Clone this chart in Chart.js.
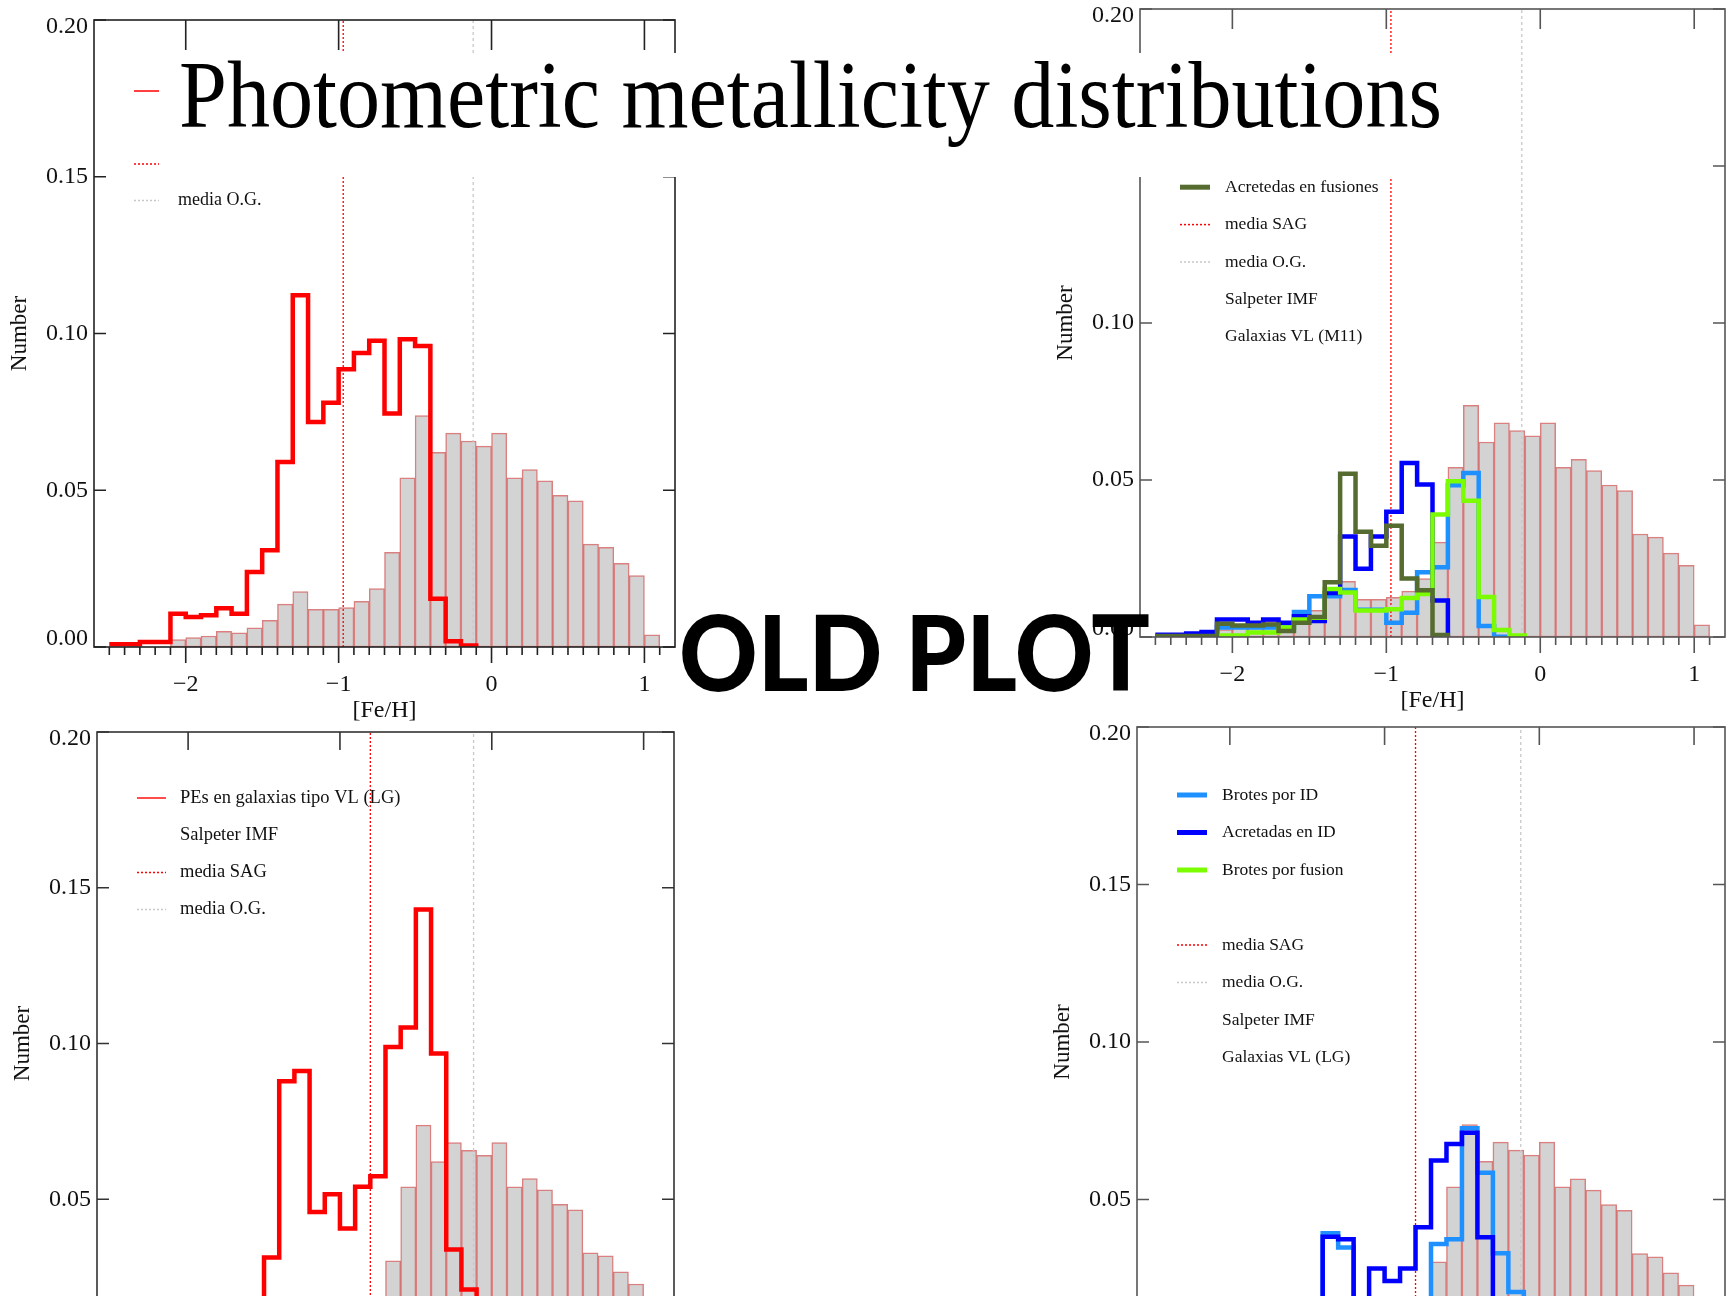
<!DOCTYPE html>
<html>
<head>
<meta charset="utf-8">
<script src="https://cdn.jsdelivr.net/npm/chart.js@4.4.1/dist/chart.umd.min.js"></script>
<style>
  html, body { margin: 0; padding: 0; background: #fff; }
  body { width: 1733px; height: 1296px; overflow: hidden; position: relative; }
  .panel { position: absolute; }
  #title-box { position: absolute; left: 165px; top: 53px; width: 1305px; height: 124px; background: #fff; z-index: 5; }
  #title { position: absolute; left: 179px; top: 47px; font-family: "Liberation Serif", serif; font-size: 96px;
           line-height: 96px; white-space: nowrap; transform-origin: 0 0; z-index: 6; color: #000; }
  #stamp { position: absolute; left: 679px; top: 598px; font-family: Lato, "Open Sans", sans-serif; font-weight: 900;
           font-size: 105px; line-height: 105px; white-space: nowrap; transform-origin: 0 0; z-index: 7; color: #000; }
</style>
</head>
<body>
<div id="title-box"></div>
<div id="title">Photometric metallicity distributions</div>
<div id="stamp">OLD PLOT</div>

<script>
// ========================================
// DATA
// ========================================

// left edges of the [Fe/H] bins (width 0.1)
const feBins = [-2.5, -2.4, -2.3, -2.2, -2.1, -2.0, -1.9, -1.8, -1.7, -1.6, -1.5, -1.4,
                -1.3, -1.2, -1.1, -1.0, -0.9, -0.8, -0.7, -0.6, -0.5, -0.4, -0.3, -0.2,
                -0.1, 0.0, 0.1, 0.2, 0.3, 0.4, 0.5, 0.6, 0.7, 0.8, 0.9, 1.0];
const binWidth = 0.1;

const xTicks = [-2, -1, 0, 1];
const xTickLabels = ['\u22122', '\u22121', '0', '1'];
const yTicks = [0, 0.05, 0.10, 0.15, 0.20];
const yTickLabels = ['0.00', '0.05', '0.10', '0.15', '0.20'];

// observed (O.G.) distribution, grey bars in every panel
const ogHist = [null, null, null, null, 0.0024, 0.0030, 0.0035, 0.0050, 0.0045, 0.0061, 0.0085, 0.0137,
                0.0177, 0.0120, 0.0120, 0.0126, 0.0146, 0.0186, 0.0302, 0.0540, 0.0738, 0.0621, 0.0682, 0.0657,
                0.0641, 0.0682, 0.0540, 0.0566, 0.0530, 0.0484, 0.0466, 0.0328, 0.0318, 0.0267, 0.0228, 0.0039];

// SAG PEs, M11 volume (top left)
const pesM11 = [0.0009, 0.0009, 0.0016, 0.0016, 0.0106, 0.0096, 0.0101, 0.0124, 0.0106, 0.0239, 0.0309, 0.0590,
                0.1122, 0.0718, 0.0779, 0.0886, 0.0938, 0.0977, 0.0745, 0.0982, 0.0960, 0.0154, 0.0018, 0.0005];

// SAG PEs, LG volume (bottom left)
const pesLG = [0.001, 0.001, 0.002, 0.002, 0.006, 0.006, 0.008, 0.010, 0.008, 0.012, 0.0313, 0.0879,
               0.0912, 0.0459, 0.0516, 0.0406, 0.0540, 0.0574, 0.0989, 0.1051, 0.1430, 0.0968, 0.0339, 0.0210,
               0.002];

// components, M11 volume (top right)
const brotesIdM11 = [0.0005, 0.0005, 0.0008, 0.0010, 0.0030, 0.0030, 0.0030, 0.0030, 0.0030, 0.0080, 0.0130, 0.0130,
                     0.0150, 0.0087, 0.0087, 0.0045, 0.0077, 0.0206, 0.0222, 0.0483, 0.0522, 0.0035, 0.0001];
const acretadasIdM11 = [0.0007, 0.0007, 0.0011, 0.0016, 0.0056, 0.0056, 0.0045, 0.0056, 0.0045, 0.0066, 0.0051, 0.0140,
                        0.0320, 0.0217, 0.0320, 0.0399, 0.0554, 0.0486, 0.0116];
const brotesFusM11 = [null, null, null, null, 0.0005, 0.0005, 0.0014, 0.0014, 0.0030, 0.0056, 0.0061, 0.0153,
                      0.0142, 0.0084, 0.0084, 0.0088, 0.0124, 0.0137, 0.0390, 0.0496, 0.0434, 0.0127, 0.0022, 0.0005];
const acretadasFusM11 = [0.0003, 0.0003, 0.0003, 0.0003, 0.0042, 0.0037, 0.0037, 0.0040, 0.0019, 0.0045, 0.0064, 0.0174,
                         0.0520, 0.0335, 0.0291, 0.0354, 0.0186, 0.0149, 0.0006];

// components, LG volume (bottom right)
const brotesIdLG = [0.001, 0.001, 0.001, 0.002, 0.003, 0.003, 0.004, 0.004, 0.005, 0.006, 0.010, 0.0393,
                    0.0348, 0.008, 0.006, 0.008, 0.010, 0.012, 0.0359, 0.0374, 0.0726, 0.0585, 0.0329, 0.0206];
const acretadasIdLG = [0.001, 0.001, 0.001, 0.002, 0.004, 0.004, 0.004, 0.004, 0.006, 0.006, 0.010, 0.0382,
                       0.0374, 0.010, 0.0281, 0.0241, 0.0281, 0.0412, 0.0624, 0.0676, 0.0712, 0.0380, 0.004];
const brotesFusLG = [null, null, null, null, 0.001, 0.001, 0.002, 0.002, 0.003, 0.004, 0.005, 0.006,
                     0.005, 0.004, 0.004, 0.005, 0.006, 0.008, 0.012, 0.016, 0.014, 0.008, 0.002];

// means
const sagMeanM11 = -0.97;
const sagMeanLG = -0.80;
const ogMean = -0.12;

// ========================================
// HELPERS
// ========================================

const RED = '#ff0000', BLUE = '#0000ff', SKY = '#1e90ff', LIME = '#7cfc00', OLIVE = '#556b2f', GREY = '#c8c8c8';

function barData(vals) {
    return vals.map((v, i) => ({ x: feBins[i] + binWidth / 2, y: v }));
}

// histogram outline: one point per bin left edge, then drop to zero at the last right edge
function stepData(vals) {
    const pts = [];
    vals.forEach((v, i) => { if (v !== null) pts.push({ x: feBins[i], y: v }); });
    pts.push({ x: feBins[vals.length - 1] + binWidth, y: 0 });
    return pts;
}

function ogBars() {
    return {
        type: 'bar', data: barData(ogHist), order: 10,
        backgroundColor: '#d3d3d3', borderColor: 'rgba(205,85,85,0.75)', borderWidth: 1.5, borderSkipped: false
    };
}

function stepLine(vals, color, order) {
    return {
        type: 'line', data: stepData(vals), order: order, stepped: 'before',
        borderColor: color, borderWidth: 4.5, pointRadius: 0, fill: false, borderJoinStyle: 'miter'
    };
}

function meanLine(m, color, dash) {
    return {
        type: 'line', data: [{ x: m, y: 0 }, { x: m, y: 0.2 }], order: 8,
        borderColor: color, borderWidth: 1.3, borderDash: dash, pointRadius: 0, fill: false
    };
}

// frame, ticks, tick labels, axis titles and legend
const framePlugin = {
    id: 'frame',
    afterDatasetsDraw(chart, args, o) {
        const { ctx, chartArea: a } = chart;
        const xs = chart.scales.x, ys = chart.scales.y;
        ctx.save();
        ctx.strokeStyle = o.axisColor;
        ctx.lineWidth = 1.6;
        ctx.setLineDash([]);
        ctx.strokeRect(a.left, a.top, a.right - a.left, a.bottom - a.top);

        ctx.beginPath();
        yTicks.forEach(v => {
            const py = ys.getPixelForValue(v);
            ctx.moveTo(a.left, py); ctx.lineTo(a.left + 12, py);
            ctx.moveTo(a.right, py); ctx.lineTo(a.right - 12, py);
        });
        xTicks.forEach(v => {
            const px = xs.getPixelForValue(v);
            ctx.moveTo(px, a.top); ctx.lineTo(px, a.top + o.topTick);
            ctx.moveTo(px, a.bottom); ctx.lineTo(px, a.bottom + 16);
        });
        for (let k = -25; k <= 11; k++) {
            const px = xs.getPixelForValue(k / 10);
            ctx.moveTo(px, a.bottom); ctx.lineTo(px, a.bottom + 8);
        }
        ctx.stroke();

        ctx.fillStyle = '#111';
        ctx.font = '24px "Liberation Serif", serif';
        ctx.textAlign = 'right';
        ctx.textBaseline = 'middle';
        yTicks.forEach((v, i) => {
            let py = ys.getPixelForValue(v);
            if (i === 0) py -= 8;
            if (i === yTicks.length - 1) py += 7;
            ctx.fillText(yTickLabels[i], a.left - 6, py);
        });
        ctx.textAlign = 'center';
        xTicks.forEach((v, i) => ctx.fillText(xTickLabels[i], xs.getPixelForValue(v), a.bottom + 38));
        ctx.fillText('[Fe/H]', (a.left + a.right) / 2, a.bottom + 64);

        ctx.save();
        ctx.font = '23px "Liberation Serif", serif';
        ctx.translate(a.left - 74, (a.top + a.bottom) / 2);
        ctx.rotate(-Math.PI / 2);
        ctx.fillText('Number', 0, 0);
        ctx.restore();

        // legend rows
        ctx.font = o.legendFont;
        ctx.textAlign = 'left';
        o.legend.forEach((item, i) => {
            const ly = a.top + o.legendTop + i * o.legendGap;
            if (item.color) {
                ctx.beginPath();
                ctx.strokeStyle = item.color;
                ctx.lineWidth = item.width;
                ctx.setLineDash(item.dash || []);
                ctx.moveTo(a.left + 40, ly);
                ctx.lineTo(a.left + 40 + o.sampleLen, ly);
                ctx.stroke();
                ctx.setLineDash([]);
            }
            if (item.label) ctx.fillText(item.label, a.left + o.textOffset, ly);
        });
        ctx.restore();
    }
};

function makePanel(cfg) {
    const [bx, by, bw, bh] = cfg.box;
    const [l, t, r, b] = cfg.area;
    const holder = document.createElement('div');
    holder.className = 'panel';
    holder.style.left = bx + 'px';
    holder.style.top = by + 'px';
    holder.style.width = bw + 'px';
    holder.style.height = bh + 'px';
    const cv = document.createElement('canvas');
    cv.width = bw;
    cv.height = bh;
    holder.appendChild(cv);
    document.body.appendChild(holder);

    return new Chart(cv.getContext('2d'), {
        type: 'bar',
        data: { datasets: cfg.datasets },
        options: {
            responsive: false,
            animation: false,
            layout: { padding: { left: l - bx, top: t - by, right: bx + bw - r, bottom: by + bh - b } },
            datasets: { bar: { barPercentage: 1, categoryPercentage: 1, grouped: false } },
            plugins: { legend: { display: false }, tooltip: { enabled: false }, frame: cfg.frame },
            scales: {
                x: { type: 'linear', min: -2.6, max: 1.2, display: false, offset: false, ticks: { stepSize: 0.5 } },
                y: { type: 'linear', min: 0, max: 0.2, display: false }
            }
        },
        plugins: [framePlugin]
    });
}

const sagKey = { label: 'media SAG', color: RED, width: 1.5, dash: [2, 2] };
const ogKey = { label: 'media O.G.', color: GREY, width: 1.5, dash: [2, 2] };
const imfKey = { label: 'Salpeter IMF' };

// ========================================
// PANELS
// ========================================

// top left
makePanel({
    box: [0, 0, 700, 760], area: [94, 20, 675, 647],
    datasets: [stepLine(pesM11, RED, 1), meanLine(sagMeanM11, RED, [2, 2]), meanLine(ogMean, GREY, [3, 3]), ogBars()],
    frame: {
        axisColor: '#222', topTick: 30, legendTop: 71, legendGap: 36.5, sampleLen: 25, textOffset: 84,
        legendFont: '18px "Liberation Serif", serif',
        legend: [{ label: 'PEs en galaxias tipo VL (M11)', color: '#ff4040', width: 2 }, imfKey, sagKey, ogKey]
    }
});

// top right
makePanel({
    box: [1040, 0, 693, 760], area: [1140, 9, 1725, 637],
    datasets: [
        stepLine(acretadasFusM11, OLIVE, 1), stepLine(brotesFusM11, LIME, 2),
        stepLine(acretadasIdM11, BLUE, 3), stepLine(brotesIdM11, SKY, 4),
        meanLine(sagMeanM11, RED, [2, 2]), meanLine(ogMean, GREY, [3, 3]), ogBars()
    ],
    frame: {
        axisColor: '#555', topTick: 20, legendTop: 66, legendGap: 37.4, sampleLen: 30, textOffset: 85,
        legendFont: '17.5px "Liberation Serif", serif',
        legend: [
            { label: 'Brotes por ID', color: SKY, width: 5 },
            { label: 'Acretadas en ID', color: BLUE, width: 5 },
            { label: 'Brotes por fusion', color: LIME, width: 5 },
            { label: 'Acretedas en fusiones', color: OLIVE, width: 5 },
            sagKey, ogKey, imfKey, { label: 'Galaxias VL (M11)' }
        ]
    }
});

// bottom left
makePanel({
    box: [0, 700, 700, 780], area: [97, 732, 674, 1355],
    datasets: [stepLine(pesLG, RED, 1), meanLine(sagMeanLG, RED, [2, 2]), meanLine(ogMean, GREY, [3, 3]), ogBars()],
    frame: {
        axisColor: '#333', topTick: 18, legendTop: 66, legendGap: 37.2, sampleLen: 29, textOffset: 83,
        legendFont: '18.5px "Liberation Serif", serif',
        legend: [{ label: 'PEs en galaxias tipo VL (LG)', color: '#ff4d4d', width: 2 }, imfKey, sagKey, ogKey]
    }
});

// bottom right
makePanel({
    box: [1040, 700, 693, 780], area: [1137, 727, 1725, 1357],
    datasets: [
        stepLine(brotesFusLG, LIME, 2), stepLine(acretadasIdLG, BLUE, 3), stepLine(brotesIdLG, SKY, 4),
        meanLine(sagMeanLG, RED, [2, 2]), meanLine(ogMean, GREY, [3, 3]), ogBars()
    ],
    frame: {
        axisColor: '#555', topTick: 18, legendTop: 68, legendGap: 37.5, sampleLen: 30, textOffset: 85,
        legendFont: '17.5px "Liberation Serif", serif',
        legend: [
            { label: 'Brotes por ID', color: SKY, width: 5 },
            { label: 'Acretadas en ID', color: BLUE, width: 5 },
            { label: 'Brotes por fusion', color: LIME, width: 5 },
            { label: '' },
            sagKey, ogKey, imfKey, { label: 'Galaxias VL (LG)' }
        ]
    }
});

// stretch the overlay texts to their boxes
function fitWidth(id, target) {
    const el = document.getElementById(id);
    const w = el.getBoundingClientRect().width;
    el.style.transform = 'scaleX(' + (target / w) + ')';
}
fitWidth('title', 1263);
fitWidth('stamp', 471);
</script>
</body>
</html>
